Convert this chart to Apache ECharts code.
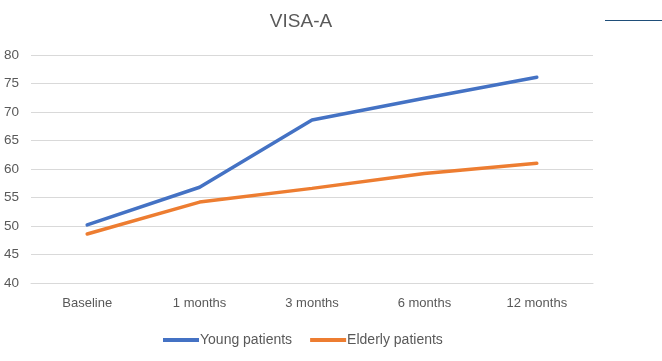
<!DOCTYPE html>
<html>
<head>
<meta charset="utf-8">
<script src="https://cdn.jsdelivr.net/npm/echarts@6/dist/echarts.min.js"></script>
<style>html,body{margin:0;padding:0;background:#fff;}#c{width:662px;height:361px;}</style>
</head>
<body>
<div id="c"></div>
<script>
var categories = ['Baseline', '1 months', '3 months', '6 months', '12 months'];
var youngPatients = [50.2, 56.8, 68.6, 72.4, 76.1];
var elderlyPatients = [48.6, 54.2, 56.6, 59.2, 61.0];
var yTicks = { min: 40, max: 80, interval: 5 };

var chart = echarts.init(document.getElementById('c'));
chart.setOption({
  animation: false,
  backgroundColor: '#ffffff',
  textStyle: { fontFamily: 'Liberation Sans, Arial, sans-serif' },
  title: {
    text: 'VISA-A', left: 296, top: 7, textAlign: 'center',
    textStyle: { fontSize: 19, fontWeight: 'normal', color: '#595959', fontFamily: 'Liberation Sans, Arial, sans-serif' }
  },
  graphic: [{ type: 'line', shape: { x1: 605, y1: 20.5, x2: 662, y2: 20.5 }, style: { stroke: '#1f4e79', lineWidth: 1 } }],
  legend: {
    bottom: 9, left: 158, itemGap: 18, itemWidth: 36, itemHeight: 4,
    icon: 'rect',
    textStyle: { fontSize: 14, color: '#595959', padding: [0, 0, 0, -4] },
    data: ['Young patients', 'Elderly patients']
  },
  grid: { left: 31, right: 69, top: 55, bottom: 78 },
  xAxis: {
    type: 'category', data: categories, boundaryGap: true,
    axisLine: { show: true, lineStyle: { color: '#d9d9d9' } },
    axisTick: { show: false },
    axisLabel: { color: '#595959', fontSize: 13, margin: 14 }
  },
  yAxis: {
    type: 'value', min: yTicks.min, max: yTicks.max, interval: yTicks.interval,
    axisLine: { show: false }, axisTick: { show: false },
    axisLabel: { color: '#595959', fontSize: 13.5, margin: 12 },
    splitLine: { lineStyle: { color: '#d9d9d9', width: 1 } }
  },
  series: [
    { name: 'Young patients', type: 'line', data: youngPatients, symbol: 'none',
      lineStyle: { width: 3.5, color: '#4472C4', cap: 'round' }, itemStyle: { color: '#4472C4' } },
    { name: 'Elderly patients', type: 'line', data: elderlyPatients, symbol: 'none',
      lineStyle: { width: 3.5, color: '#ED7D31', cap: 'round' }, itemStyle: { color: '#ED7D31' } }
  ]
});
</script>
</body>
</html>
